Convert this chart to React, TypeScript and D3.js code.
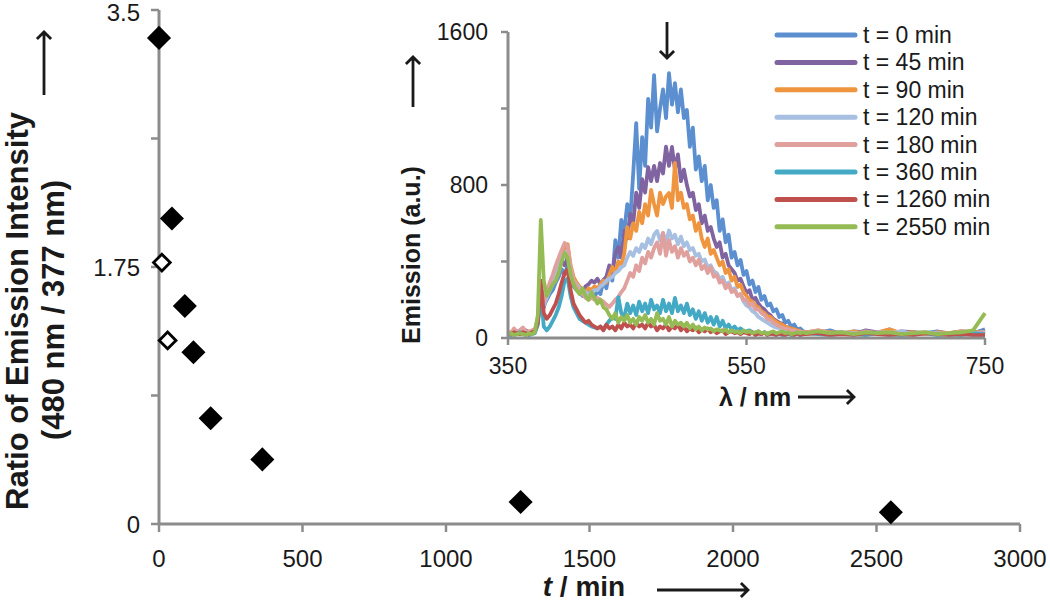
import React from 'react';
import * as d3 from 'd3';

// main plot: ratio 480/377 vs time
const timeFilled = [0, 45, 90, 120, 180, 360, 1260, 2550];
const ratioFilled = [3.31, 2.08, 1.485, 1.17, 0.72, 0.44, 0.15, 0.08];
const timeOpen = [10, 30];
const ratioOpen = [1.78, 1.25];

const xTicks = [0, 500, 1000, 1500, 2000, 2500, 3000];
const yTicks = [0, 0.875, 1.75, 2.625, 3.5];
const yTickLabels = ['0', '', '1.75', '', '3.5'];

// inset: emission spectra (2.5 nm steps up to 600, then 10 nm)
const wavelengths = [
  350, 352.5, 355, 357.5, 360, 362.5, 365, 367.5, 370, 372.5,
  375, 377.5, 380, 382.5, 385, 387.5, 390, 392.5, 395, 397.5,
  400, 402.5, 405, 407.5, 410, 412.5, 415, 417.5, 420, 422.5,
  425, 427.5, 430, 432.5, 435, 437.5, 440, 442.5, 445, 447.5,
  450, 452.5, 455, 457.5, 460, 462.5, 465, 467.5, 470, 472.5,
  475, 477.5, 480, 482.5, 485, 487.5, 490, 492.5, 495, 497.5,
  500, 502.5, 505, 507.5, 510, 512.5, 515, 517.5, 520, 522.5,
  525, 527.5, 530, 532.5, 535, 537.5, 540, 542.5, 545, 547.5,
  550, 552.5, 555, 557.5, 560, 562.5, 565, 567.5, 570, 572.5,
  575, 577.5, 580, 582.5, 585, 587.5, 590, 592.5, 595, 597.5,
  600, 610, 620, 630, 640, 650, 660, 670, 680, 690, 700, 710, 720, 730, 740, 750,
];

const em0 = [
  30, 20, 35, 25, 40, 20, 30, 25, 35, 40,
  90, 280, 170, 200, 230, 250, 290, 320, 360, 330,
  380, 300, 270, 250, 240, 220, 260, 230, 240, 210,
  250, 230, 300, 260, 350, 300, 512, 420, 617, 560,
  700, 620, 860, 1124, 780, 1050, 900, 1250, 1100, 1375,
  1080, 1200, 1300, 1150, 1385, 1220, 1333, 1180, 1300, 1150,
  1192, 1000, 1100, 880, 950, 820, 900, 720, 800, 680,
  720, 560, 620, 500, 540, 420, 450, 380, 408, 330,
  350, 280, 300, 240, 267, 200, 220, 170, 180, 140,
  150, 110, 120, 80, 90, 60, 70, 45, 50, 35,
  30, 25, 40, 20, 35, 30, 25, 45, 20, 30, 25, 35, 20, 30, 25, 45,
];
const em45 = [
  25, 30, 20, 35, 30, 25, 40, 30, 25, 35,
  80, 260, 160, 220, 260, 280, 320, 360, 400, 380,
  420, 330, 290, 260, 250, 240, 270, 280, 300, 290,
  310, 280, 303, 320, 380, 340, 440, 476, 420, 560,
  520, 650, 600, 760, 680, 830, 760, 894, 820, 900,
  820, 915, 860, 1000, 900, 999, 880, 960, 820, 880,
  800, 740, 760, 669, 700, 600, 640, 560, 580, 520,
  476, 500, 420, 440, 380, 360, 340, 300, 310, 270,
  235, 250, 200, 210, 180, 160, 150, 130, 120, 100,
  90, 80, 75, 60, 55, 50, 45, 40, 35, 30,
  30, 35, 25, 30, 20, 40, 30, 25, 35, 30, 20, 30, 25, 35, 30, 35,
];
const em90 = [
  20, 30, 25, 30, 35, 25, 30, 35, 25, 40,
  90, 270, 180, 230, 280, 310, 350, 400, 440, 470,
  490, 380, 320, 290, 270, 250, 240, 260, 250, 270,
  260, 280, 300, 290, 330, 371, 340, 400, 380, 440,
  580, 520, 600, 560, 660, 600, 700, 640, 774, 700,
  640, 760, 700, 740, 758, 680, 915, 720, 760, 680,
  700, 620, 640, 560, 600, 520, 476, 520, 440, 460,
  420, 380, 400, 340, 360, 300, 320, 267, 280, 240,
  220, 200, 190, 170, 160, 140, 130, 115, 110, 95,
  85, 75, 70, 60, 55, 50, 45, 40, 35, 30,
  30, 40, 30, 25, 35, 20, 30, 45, 25, 30, 20, 30, 25, 35, 30, 30,
];
const em120 = [
  25, 20, 30, 25, 30, 20, 25, 30, 35, 30,
  80, 240, 170, 210, 250, 280, 320, 370, 420, 440,
  460, 360, 300, 280, 260, 250, 240, 230, 240, 250,
  250, 270, 280, 300, 310, 320, 340, 350, 370, 380,
  420, 450, 430, 470, 450, 490, 470, 520, 490, 540,
  560, 510, 549, 500, 562, 520, 540, 490, 530, 480,
  500, 460, 470, 430, 440, 400, 410, 370, 380, 350,
  340, 310, 320, 280, 290, 250, 260, 220, 230, 190,
  170, 160, 140, 130, 110, 100, 90, 80, 70, 60,
  55, 50, 45, 40, 35, 30, 35, 30, 25, 30,
  25, 30, 20, 30, 25, 20, 30, 25, 35, 20, 30, 25, 20, 30, 25, 30,
];
const em180 = [
  30, 25, 50, 30, 40, 55, 35, 30, 40, 45,
  100, 260, 190, 240, 290, 330, 380, 420, 460, 497,
  480, 370, 300, 270, 250, 230, 210, 200, 210, 200,
  210, 200, 190, 175, 162, 180, 200, 214, 240, 260,
  300, 340, 320, 380, 350, 420, 390, 450, 420, 470,
  500, 440, 549, 430, 512, 450, 480, 420, 470, 430,
  450, 400, 420, 380, 410, 360, 380, 340, 371, 320,
  330, 290, 300, 260, 280, 240, 250, 220, 230, 200,
  200, 170, 180, 150, 150, 130, 120, 100, 95, 80,
  70, 60, 55, 50, 45, 40, 40, 30, 35, 25,
  30, 40, 25, 30, 20, 35, 25, 30, 20, 25, 30, 20, 25, 30, 20, 30,
];
const em360 = [
  20, 15, 25, 20, 30, 20, 25, 15, 20, 25,
  70, 240, 60, 40, 60, 90, 120, 160, 220, 300,
  310, 220, 160, 130, 100, 90, 80, 70, 60, 55,
  50, 60, 45, 70, 90, 110, 100, 214, 130, 110,
  180, 130, 170, 120, 190, 140, 180, 130, 200, 150,
  170, 130, 200, 140, 180, 130, 210, 140, 170, 130,
  180, 120, 150, 100, 140, 90, 130, 80, 110, 70,
  110, 60, 90, 50, 70, 45, 60, 40, 50, 35,
  35, 40, 30, 25, 35, 20, 30, 25, 20, 25,
  20, 25, 15, 20, 25, 15, 20, 25, 15, 20,
  25, 20, 15, 25, 20, 15, 25, 20, 15, 20, 25, 15, 20, 15, 25, 20,
];
const em1260 = [
  25, 20, 30, 25, 20, 30, 25, 20, 30, 35,
  80, 300, 130, 100, 120, 150, 180, 230, 290, 340,
  360, 250, 180, 150, 120, 100, 80, 90, 70, 60,
  50, 60, 40, 70, 50, 60, 40, 70, 50, 80,
  60, 70, 50, 80, 60, 70, 50, 80, 60, 70,
  40, 60, 50, 70, 40, 60, 50, 70, 40, 60,
  35, 50, 40, 55, 30, 45, 35, 50, 30, 40,
  25, 35, 40, 20, 30, 35, 25, 30, 20, 30,
  25, 20, 30, 15, 25, 20, 30, 15, 25, 20,
  15, 25, 20, 15, 25, 20, 15, 25, 15, 20,
  20, 25, 15, 20, 15, 25, 20, 15, 20, 15, 25, 20, 15, 20, 15, 15,
];
const em2550 = [
  20, 25, 15, 20, 25, 20, 15, 25, 20, 30,
  120, 617, 300, 220, 250, 280, 300, 340, 400, 444,
  420, 330, 280, 250, 230, 260, 220, 200, 240, 210,
  180, 200, 160, 150, 120, 100, 130, 80, 110, 90,
  120, 80, 100, 70, 110, 90, 120, 80, 100, 70,
  130, 90, 100, 70, 110, 60, 90, 70, 80, 60,
  80, 50, 70, 45, 60, 40, 55, 45, 50, 35,
  45, 40, 35, 45, 30, 40, 30, 35, 25, 40,
  30, 35, 25, 30, 35, 25, 30, 20, 30, 35,
  25, 30, 35, 25, 30, 20, 25, 30, 25, 30,
  25, 35, 25, 30, 20, 30, 25, 30, 20, 25, 30, 20, 25, 30, 40, 130,
];

const seriesNames = [
  't = 0 min', 't = 45 min', 't = 90 min', 't = 120 min',
  't = 180 min', 't = 360 min', 't = 1260 min', 't = 2550 min',
];
const seriesValues = [em0, em45, em90, em120, em180, em360, em1260, em2550];
const seriesColors = [
  '#5B8FD0', '#8064A2', '#F0953F', '#A7BFE0',
  '#E0A09E', '#43A9C4', '#C0504D', '#95BB55',
];

const insetXTicks = [350, 550, 750];
const insetYTicks = [0, 400, 800, 1200, 1600];
const insetYTickLabels = ['0', '', '800', '', '1600'];

const FONT = '"Liberation Sans", Arial, sans-serif';
const AXIS = '#8c8c8c';
const INK = '#1a1a1a';

// shaft plus open V head
const Arrow = ({ x1, y1, x2, y2, head = 10, width = 2.8 }) => {
  const a = Math.atan2(y2 - y1, x2 - x1);
  const h1x = x2 - head * Math.cos(a - Math.PI / 4);
  const h1y = y2 - head * Math.sin(a - Math.PI / 4);
  const h2x = x2 - head * Math.cos(a + Math.PI / 4);
  const h2y = y2 - head * Math.sin(a + Math.PI / 4);
  return (
    <path
      d={`M${x1},${y1}L${x2},${y2}M${h1x},${h1y}L${x2},${y2}L${h2x},${h2y}`}
      stroke={INK}
      strokeWidth={width}
      fill="none"
    />
  );
};

export default function App() {
  const width = 1050;
  const height = 603;

  // main scales
  const x = d3.scaleLinear().domain([0, 3000]).range([159, 1020]);
  const y = d3.scaleLinear().domain([0, 3.5]).range([524, 10]);

  // inset scales
  const ix = d3.scaleLinear().domain([350, 750]).range([508, 985]);
  const iy = d3.scaleLinear().domain([0, 1600]).range([338, 32]);

  const line = d3.line<number>()
    .x((d, i) => ix(wavelengths[i]))
    .y(d => iy(d));

  const diamond = d3.symbol().type(d3.symbolSquare).size(290)();
  const diamondOpen = d3.symbol().type(d3.symbolSquare).size(140)();

  return (
    <svg width={width} height={height} style={{ position: 'absolute', left: 0, top: 0, background: '#fff' }} fontFamily={FONT}>
      {/* main axes */}
      <line x1={x(0)} x2={x(3000)} y1={y(0)} y2={y(0)} stroke={AXIS} strokeWidth={3} />
      <line x1={x(0)} x2={x(0)} y1={y(0)} y2={y(3.5)} stroke={AXIS} strokeWidth={3} />
      {xTicks.map(t => (
        <g key={'xt' + t}>
          <line x1={x(t)} x2={x(t)} y1={y(0)} y2={y(0) + 8} stroke={AXIS} strokeWidth={2.5} />
          <text x={x(t)} y={y(0) + 43} textAnchor="middle" fontSize={24} fill={INK}>{t}</text>
        </g>
      ))}
      {yTicks.map((t, i) => (
        <g key={'yt' + t}>
          <line x1={x(0) - 8} x2={x(0)} y1={y(t)} y2={y(t)} stroke={AXIS} strokeWidth={2.5} />
          <text x={x(0) - 19} y={Math.max(y(t) + 9, 21)} textAnchor="end" fontSize={24} fill={INK}>{yTickLabels[i]}</text>
        </g>
      ))}

      {/* main axis titles */}
      <text transform={`translate(28,311) rotate(-90)`} textAnchor="middle" fontSize={31} fontWeight="bold" fill={INK}>
        Ratio of Emission Intensity
      </text>
      <text transform={`translate(64,310) rotate(-90)`} textAnchor="middle" fontSize={31} fontWeight="bold" fill={INK}>
        (480 nm / 377 nm)
      </text>
      <Arrow x1={44} y1={95} x2={44} y2={32} />
      <text x={584} y={596} textAnchor="middle" fontSize={28} fontWeight="bold" fill={INK}>
        <tspan fontStyle="italic">t</tspan> / min
      </text>
      <Arrow x1={657} y1={590} x2={748} y2={590} />

      {/* main markers */}
      {timeFilled.map((t, i) => (
        <path key={'f' + t} d={diamond} transform={`translate(${x(t)},${y(ratioFilled[i])}) rotate(45)`} fill="#000" />
      ))}
      {timeOpen.map((t, i) => (
        <path key={'o' + t} d={diamondOpen} transform={`translate(${x(t)},${y(ratioOpen[i])}) rotate(45)`} fill="#fff" stroke="#000" strokeWidth={2.8} />
      ))}

      {/* inset */}
      {seriesValues.map((vals, i) => (
        <path key={'s' + i} d={line(vals) || ''} fill="none" stroke={seriesColors[i]} strokeWidth={3.8} strokeLinejoin="round" />
      ))}
      <line x1={ix(350)} x2={ix(750)} y1={iy(0)} y2={iy(0)} stroke={AXIS} strokeWidth={3} />
      <line x1={ix(350)} x2={ix(350)} y1={iy(0)} y2={iy(1600)} stroke={AXIS} strokeWidth={3} />
      {insetXTicks.map(t => (
        <g key={'ixt' + t}>
          <line x1={ix(t)} x2={ix(t)} y1={iy(0)} y2={iy(0) + 7} stroke={AXIS} strokeWidth={2.5} />
          <text x={ix(t)} y={iy(0) + 36} textAnchor="middle" fontSize={23} fill={INK}>{t}</text>
        </g>
      ))}
      {insetYTicks.map((t, i) => (
        <g key={'iyt' + t}>
          <line x1={ix(350) - 7} x2={ix(350)} y1={iy(t)} y2={iy(t)} stroke={AXIS} strokeWidth={2.5} />
          <text x={ix(350) - 20} y={iy(t) + 8} textAnchor="end" fontSize={23} fill={INK}>{insetYTickLabels[i]}</text>
        </g>
      ))}
      <text transform={`translate(420,255) rotate(-90)`} textAnchor="middle" fontSize={25} fontWeight="bold" fill={INK}>
        Emission (a.u.)
      </text>
      <Arrow x1={413} y1={107} x2={413} y2={57} />
      <text x={755} y={406} textAnchor="middle" fontSize={25} fontWeight="bold" fill={INK}>λ / nm</text>
      <Arrow x1={798} y1={397} x2={854} y2={397} />
      <Arrow x1={667} y1={22} x2={667} y2={58} />

      {/* legend */}
      {seriesNames.map((name, i) => (
        <g key={'lg' + i} transform={`translate(777,${35 + i * 27.4})`}>
          <line x1={0} x2={78} y1={0} y2={0} stroke={seriesColors[i]} strokeWidth={5} strokeLinecap="round" />
          <text x={86} y={8} fontSize={23} fill={INK}>{name}</text>
        </g>
      ))}
    </svg>
  );
}
